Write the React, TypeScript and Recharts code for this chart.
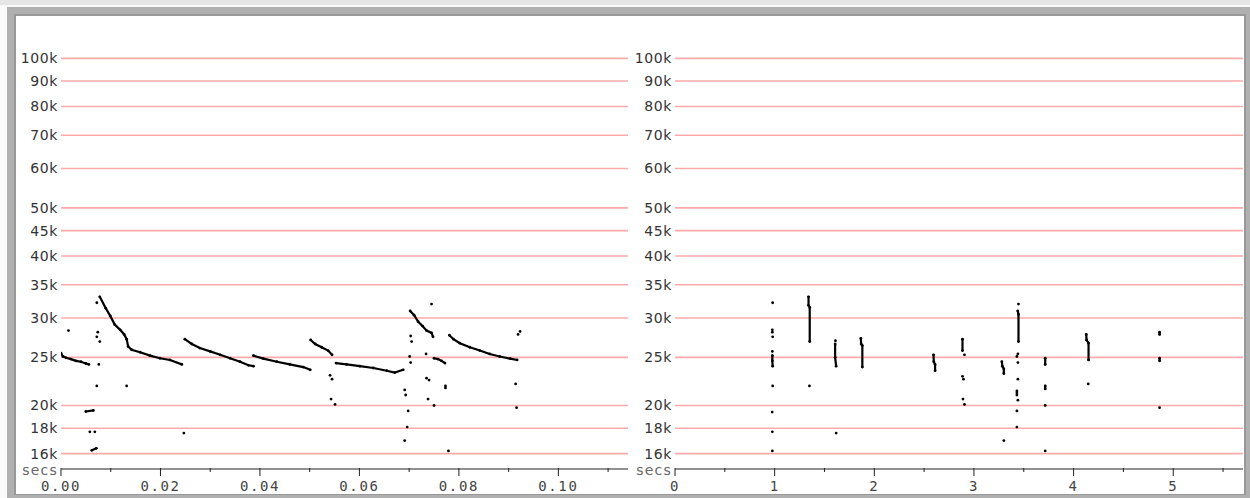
import React from "react";
import { ScatterChart, Scatter, XAxis, YAxis, ReferenceLine } from "recharts";

// frequency grid lines (Hz), both panels
const freqTicks = [16000, 18000, 20000, 25000, 30000, 35000, 40000, 45000, 50000, 60000, 70000, 80000, 90000, 100000];
const zoomTicks = [0, 0.01, 0.02, 0.03, 0.04, 0.05, 0.06, 0.07, 0.08, 0.09, 0.1, 0.11];
const fullTicks = [0, 0.5, 1, 1.5, 2, 2.5, 3, 3.5, 4, 4.5, 5, 5.5];

// left panel: calls as [secs, Hz]
const zCallA = [[0.0, 25500], [0.0004, 25100], [0.001, 24950], [0.002, 24800], [0.003, 24600], [0.004, 24500], [0.005, 24300], [0.0056, 24200]];
const zCallB = [[0.0078, 33100], [0.009, 31400], [0.0099, 30300], [0.0108, 29100], [0.0119, 28400], [0.0127, 27800], [0.0132, 27200], [0.0135, 26300], [0.0142, 25900], [0.0159, 25600], [0.0179, 25200], [0.0199, 24900], [0.0219, 24700], [0.0243, 24200]];
const zCallC = [[0.0249, 27200], [0.0263, 26600], [0.0279, 26100], [0.03, 25700], [0.032, 25300], [0.034, 24900], [0.036, 24500], [0.0377, 24100], [0.0387, 24000]];
const zCallD = [[0.0387, 25200], [0.0407, 24850], [0.0434, 24500], [0.046, 24200], [0.0487, 23900], [0.0501, 23600]];
const zCallE = [[0.0502, 27100], [0.0511, 26600], [0.0524, 26200], [0.0537, 25800], [0.0545, 25300]];
const zCallF = [[0.0553, 24350], [0.0574, 24200], [0.0601, 24000], [0.0628, 23800], [0.0655, 23500], [0.0671, 23300], [0.0688, 23600]];
const zCallG = [[0.0702, 31000], [0.071, 30400], [0.0718, 29500], [0.0727, 28900], [0.0735, 28300], [0.0745, 28000], [0.0748, 27500]];
const zCallH = [[0.075, 24900], [0.0758, 24800], [0.0765, 24600], [0.0772, 24350]];
const zCallI = [[0.0781, 27700], [0.0789, 27200], [0.0802, 26700], [0.0822, 26200], [0.0842, 25800], [0.0862, 25400], [0.0882, 25100], [0.0903, 24850], [0.0917, 24700]];
const zCallJ = [[0.005, 19450], [0.0065, 19550]];
const zCallK = [[0.0062, 16250], [0.0071, 16400]];
const zStray = [
  [0.0015, 28300], [0.0058, 17700], [0.0068, 17700], [0.0072, 32200], [0.0074, 28100], [0.0072, 27500],
  [0.0078, 26900], [0.0076, 24200], [0.0072, 21900], [0.0132, 21900], [0.0247, 17600],
  [0.0541, 23000], [0.0545, 22600], [0.0543, 20600], [0.0551, 20100],
  [0.0691, 21500], [0.0693, 21000], [0.0698, 19500], [0.0696, 18100], [0.0691, 17000],
  [0.0703, 27600], [0.0705, 26900], [0.0701, 25100], [0.0703, 24400],
  [0.0745, 32000], [0.0734, 25400], [0.0735, 22700], [0.074, 22500], [0.0738, 20600], [0.075, 20000],
  [0.0773, 21900], [0.0773, 21700], [0.0779, 16200],
  [0.0923, 28200], [0.0919, 27800], [0.0914, 22100], [0.0916, 19800],
];

// right panel: whole pass, 0–5.7 s
const fCall1 = [[0.977, 25200], [0.977, 24600], [0.98, 24000]];
const fCall2a = [[1.34, 33100], [1.34, 31800]];
const fCall2b = [[1.352, 31500], [1.352, 26900]];
const fCall3 = [[1.607, 26600], [1.607, 25000], [1.617, 24000]];
const fCall4 = [[1.865, 27300], [1.868, 26600], [1.88, 26400], [1.88, 23900]];
const fCall5 = [[2.594, 25300], [2.597, 24500], [2.61, 24200], [2.61, 23500]];
const fCall6 = [[2.885, 27200], [2.885, 25800]];
const fCall7 = [[3.28, 24500], [3.285, 24000], [3.3, 23700], [3.3, 23200]];
const fCall8 = [[3.44, 31000], [3.447, 30500], [3.447, 26900]];
const fCall9a = [[3.715, 24900], [3.715, 24200]];
const fCall9b = [[3.715, 21900], [3.715, 21600]];
const fCall10 = [[4.127, 27800], [4.13, 27100], [4.15, 26700], [4.15, 24700]];
const fCall11a = [[4.863, 28100], [4.863, 27800]];
const fCall11b = [[4.863, 24900], [4.863, 24600]];
const fStray = [
  [0.98, 32200], [0.977, 28400], [0.977, 28100], [0.98, 27500], [0.977, 25700], [0.98, 21900],
  [0.975, 19400], [0.977, 17700], [0.977, 16200], [1.349, 21900], [1.61, 27000], [1.617, 17600],
  [2.905, 25300], [2.885, 22900], [2.895, 22600], [2.89, 20600], [2.905, 20100], [3.3, 17000],
  [3.447, 32000], [3.441, 25400], [3.431, 25100], [3.441, 24400], [3.441, 22600], [3.431, 21400],
  [3.431, 21200], [3.431, 21000], [3.441, 20500], [3.431, 19500], [3.431, 18100],
  [3.715, 20000], [3.715, 16200], [4.147, 22100], [4.863, 19800],
];

const zoomCalls = [zCallA, zCallB, zCallC, zCallD, zCallE, zCallF, zCallG, zCallH, zCallI, zCallJ, zCallK];
const fullCalls = [fCall1, fCall2a, fCall2b, fCall3, fCall4, fCall5, fCall6, fCall7, fCall8, fCall9a, fCall9b, fCall10, fCall11a, fCall11b];

const pts = (a: number[][]) => a.map(([t, hz]) => ({ t, hz }));

const Dot = (p: any) => <circle cx={p.cx} cy={p.cy} r={1.4} fill="#000" />;

const makeTick = (isMajor: (v: number) => boolean, fmt: (v: number) => string) => (props: any) => {
  const { x, y, payload } = props;
  const v = payload.value;
  const major = isMajor(v);
  return (
    <g>
      <line x1={x} x2={x} y1={y - 1} y2={y + (major ? 7 : 3)} stroke="#222" strokeWidth={1} />
      {major && (
        <text x={x} y={y + 22} textAnchor="middle" fontFamily="DejaVu Sans Mono" fontSize={14} letterSpacing={1.6} fill="#444">
          {fmt(v)}
        </text>
      )}
      {v === 0 && (
        <text x={x - 3} y={y + 6} textAnchor="end" fontFamily="DejaVu Sans" fontSize={14} letterSpacing={1.2} fill="#666">
          secs
        </text>
      )}
    </g>
  );
};

const zoomTick = makeTick((v) => Math.round(v * 100) % 2 === 0, (v) => v.toFixed(2));
const fullTick = makeTick((v) => Number.isInteger(v), (v) => String(v));

const Panel = ({ width, right, domainX, ticks, tick, calls, stray }: any) => (
  <ScatterChart width={width} height={478} margin={{ top: 3, right, bottom: 0, left: 0 }}>
    <XAxis
      type="number"
      dataKey="t"
      domain={domainX}
      allowDataOverflow
      ticks={ticks}
      interval={0}
      height={25}
      tickLine={false}
      tickSize={0}
      tickMargin={0}
      axisLine={{ stroke: "#222" }}
      tick={tick}
    />
    <YAxis
      type="number"
      dataKey="hz"
      scale="log"
      domain={[14900, 120000]}
      allowDataOverflow
      ticks={freqTicks}
      interval={0}
      width={45}
      axisLine={false}
      tickLine={false}
      tickSize={0}
      tickMargin={3}
      tickFormatter={(v: number) => `${v / 1000}k`}
      tick={{ fill: "#333", fontSize: 14, fontFamily: "DejaVu Sans", letterSpacing: 0.6 }}
    />
    {freqTicks.map((f) => (
      <ReferenceLine key={f} y={f} stroke="#ffaaaa" strokeWidth={1.6} />
    ))}
    {calls.map((c: number[][], i: number) => (
      <Scatter
        key={i}
        data={pts(c)}
        line={{ stroke: "#000", strokeWidth: 2.2, strokeLinecap: "round" }}
        lineType="joint"
        shape={Dot}
        isAnimationActive={false}
      />
    ))}
    <Scatter data={pts(stray)} shape={Dot} isAnimationActive={false} />
  </ScatterChart>
);

export default function App() {
  return (
    <div style={{ position: "absolute", left: 0, top: 0, width: 1250, height: 498, background: "#e6e6e6", overflow: "hidden" }}>
      <div style={{ position: "absolute", left: 0, top: 5, width: 1250, height: 493, background: "#fafafa" }} />
      <div style={{ position: "absolute", left: 7, top: 7, width: 1243, height: 491, background: "#b0b0b0" }} />
      <div style={{ position: "absolute", left: 14, top: 14, width: 1232, height: 481, background: "#989898" }} />
      <div style={{ position: "absolute", left: 16, top: 16, width: 1228, height: 478, background: "#fff" }}>
        <div style={{ position: "absolute", left: 0, top: 0 }}>
          <Panel width={620} right={8} domainX={[0, 0.114]} ticks={zoomTicks} tick={zoomTick} calls={zoomCalls} stray={zStray} />
        </div>
        <div style={{ position: "absolute", left: 614, top: 0 }}>
          <Panel width={614} right={1} domainX={[0, 5.7]} ticks={fullTicks} tick={fullTick} calls={fullCalls} stray={fStray} />
        </div>
      </div>
    </div>
  );
}
